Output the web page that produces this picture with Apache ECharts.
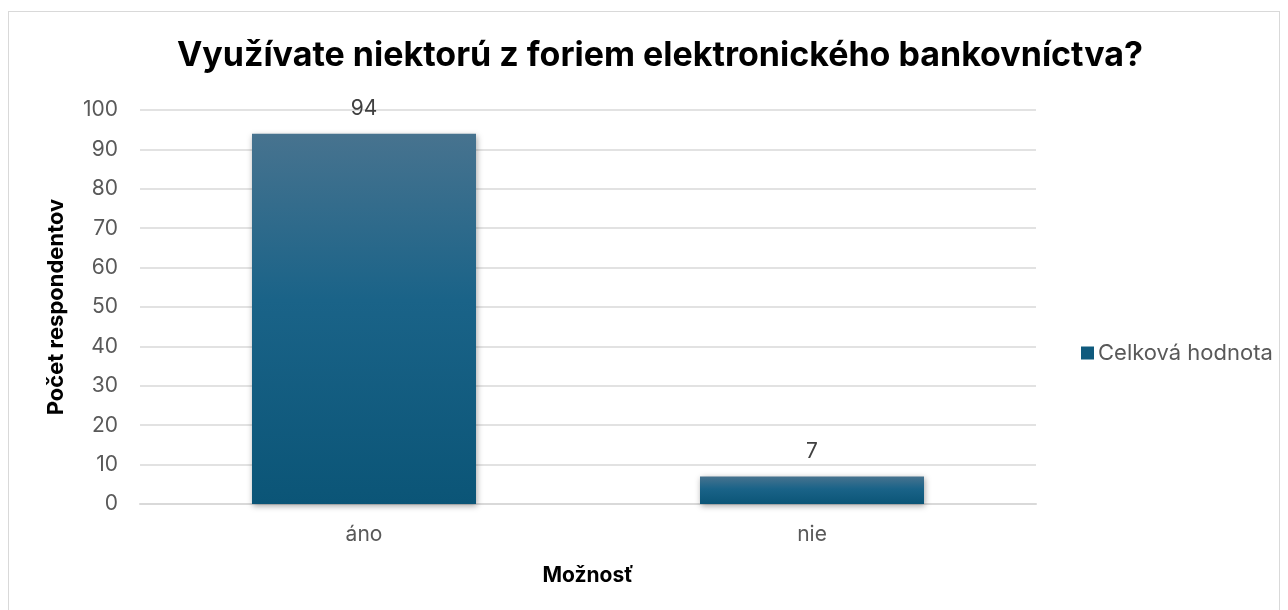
<!DOCTYPE html>
<html>
<head>
<meta charset="utf-8">
<script src="https://cdn.jsdelivr.net/npm/echarts@6/dist/echarts.min.js"></script>
<style>
  html, body { margin: 0; padding: 0; background: #fff; }
  #frame { position: absolute; left: 8px; top: 11px; width: 1272px; height: 610px; border: 1px solid #d9d9d9; box-sizing: border-box; }
  #chart { position: absolute; left: 0; top: 0; width: 1288px; height: 610px; }
</style>
</head>
<body>
<div id="frame"></div>
<div id="chart"></div>
<script>
// Survey: use of electronic banking
const titleText = 'Využívate niektorú z foriem elektronického bankovníctva?';
const categories = ['áno', 'nie'];
const seriesName = 'Celková hodnota';
const values = [94, 7];
const yTicks = { min: 0, max: 100, interval: 10 };
const yAxisTitle = 'Počet respondentov';
const xAxisTitle = 'Možnosť';

const font = 'Inter, "Noto Sans", "DejaVu Sans", sans-serif';
const barFill = new echarts.graphic.LinearGradient(0, 0, 0, 1, [
  { offset: 0, color: '#47738f' },
  { offset: 0.45, color: '#1a6388' },
  { offset: 1, color: '#0b5577' }
]);

const chart = echarts.init(document.getElementById('chart'), null, { renderer: 'canvas' });
chart.setOption({
  animation: false,
  backgroundColor: 'transparent',
  title: {
    text: titleText,
    left: 655, top: 34, textAlign: 'center',
    textStyle: { fontFamily: font, fontSize: 34, fontWeight: 'bold', color: '#000' }
  },
  legend: {
    data: [seriesName],
    orient: 'vertical',
    left: 1076, top: 337,
    icon: 'rect', itemWidth: 13, itemHeight: 13, itemGap: 6,
    textStyle: { fontFamily: font, fontSize: 22, color: '#595959', padding: [0, 0, 0, -1] },
    itemStyle: { color: '#0f5a7d' }
  },
  grid: { left: 140, right: 252, top: 110, bottom: 106, containLabel: false },
  xAxis: {
    type: 'category',
    data: categories,
    name: xAxisTitle,
    nameLocation: 'middle',
    nameGap: 61,
    nameTextStyle: { fontFamily: font, fontSize: 21, fontWeight: 'bold', color: '#000' },
    axisLine: { show: true, lineStyle: { color: '#d9d9d9', width: 2 } },
    axisTick: { show: false },
    axisLabel: { fontFamily: font, fontSize: 21, color: '#595959', margin: 20 }
  },
  yAxis: {
    type: 'value',
    min: yTicks.min, max: yTicks.max, interval: yTicks.interval,
    name: yAxisTitle,
    nameLocation: 'middle',
    nameGap: 73,
    nameTextStyle: { fontFamily: font, fontSize: 22, fontWeight: 'bold', color: '#000' },
    axisLine: { show: false },
    axisTick: { show: false },
    axisLabel: { fontFamily: font, fontSize: 21, color: '#595959', margin: 22 },
    splitLine: { lineStyle: { color: '#d9d9d9', width: 1.5 } }
  },
  series: [{
    name: seriesName,
    type: 'bar',
    data: values,
    barWidth: '50%',
    itemStyle: {
      color: barFill,
      shadowColor: 'rgba(0,0,0,0.35)',
      shadowBlur: 6,
      shadowOffsetX: 1,
      shadowOffsetY: 2
    },
    label: {
      show: true,
      position: 'top',
      distance: 14,
      fontFamily: font,
      fontSize: 21,
      color: '#404040'
    }
  }]
});
</script>
</body>
</html>
